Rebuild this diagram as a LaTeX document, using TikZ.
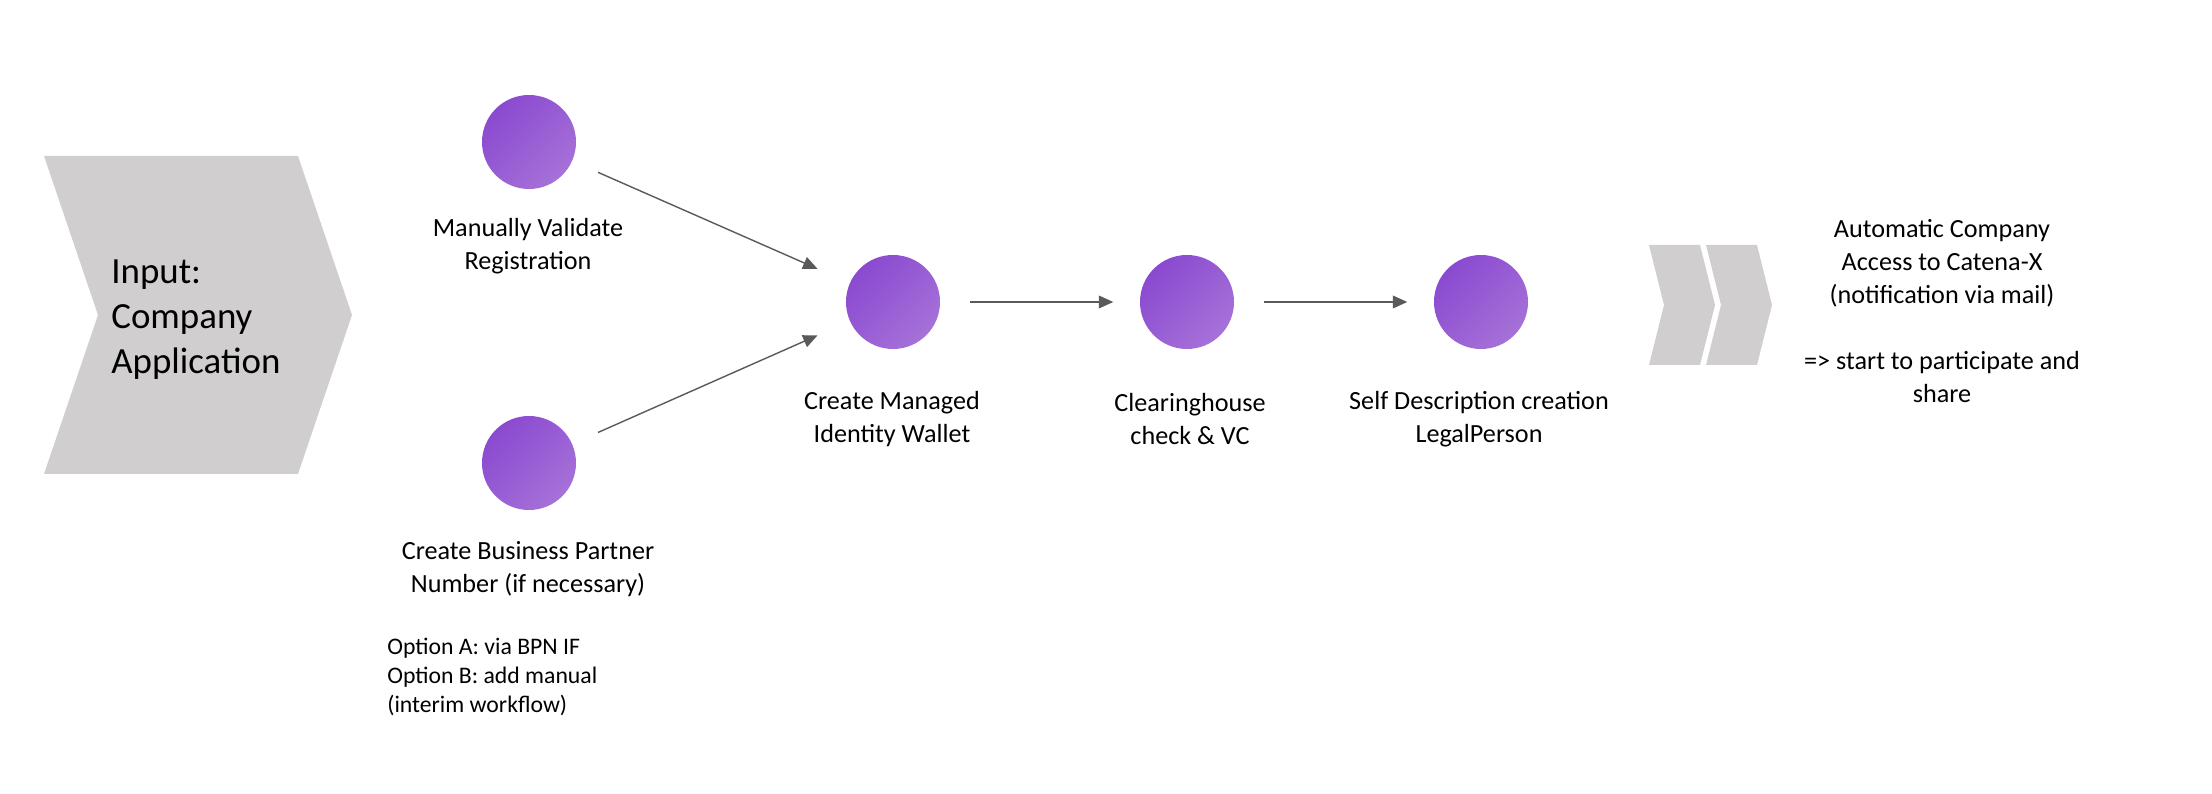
\documentclass[tikz,border=0pt]{standalone}
\usepackage{fontspec}
\setmainfont{Carlito}
\usetikzlibrary{arrows.meta, positioning, calc}
\definecolor{stepdark}{RGB}{138,74,208}
\definecolor{steplight}{RGB}{166,113,216}
\definecolor{chevgray}{RGB}{208,206,206}
\definecolor{arrowgray}{RGB}{90,90,90}

\begin{document}
\begin{tikzpicture}[x=1cm, y=1cm,
    stepnode/.style={circle, minimum size=1.88cm, inner sep=0pt, top color=stepdark, bottom color=steplight, shading angle=45},
    steplabel/.style={align=center, inner sep=0pt, font=\fontsize{14.9}{18.7}\selectfont},
    flow/.style={draw=arrowgray, line width=0.8pt, -{Triangle[length=8.2pt, width=7.2pt]}, shorten <=17pt, shorten >=15pt}]
\useasboundingbox (0,0) rectangle (44.24,15.88);

% Input chevron
\fill[chevgray] (0.88,12.76) -- (5.96,12.76) -- (7.04,9.58) -- (5.96,6.40) -- (0.88,6.40) -- (1.96,9.58) -- cycle;
\node[anchor=west, align=left, inner sep=0pt, font=\fontsize{21}{25.6}\selectfont] (input) at (2.22,9.48) {Input:\\Company\\Application};

% Parallel steps
\node[stepnode] (validate) at (10.58,13.04) {};
\node[steplabel] (validatelbl) at (10.56,10.95) {Manually Validate\\Registration};
\node[stepnode] (bpn) at (10.58,6.62) {};
\node[steplabel] (bpnlbl) at (10.56,4.49) {Create Business Partner\\Number (if necessary)};
\node[anchor=west, align=left, inner sep=0pt, font=\fontsize{13.5}{16.6}\selectfont] (options) at (7.74,2.34) {Option A: via BPN IF\\Option B: add manual\\(interim workflow)};

% Sequential steps
\foreach \name/\x in {wallet/17.86, clearing/23.74, selfdesc/29.62} {
    \node[stepnode] (\name) at (\x,9.84) {};
}
\node[steplabel] (walletlbl) at (17.84,7.50) {Create Managed\\Identity Wallet};
\node[steplabel] (clearinglbl) at (23.80,7.50) {Clearinghouse\\check \& VC};
\node[steplabel] (selfdesclbl) at (29.58,7.50) {Self Description creation\\LegalPerson};

% Connections
\draw[flow, shorten <=16pt, shorten >=20pt] (validate) -- (wallet);
\draw[flow, shorten <=16pt, shorten >=20pt] (bpn) -- (wallet);
\draw[flow] (wallet) -- (clearing);
\draw[flow] (clearing) -- (selfdesc);

% Output chevrons
\foreach \dx in {0, 1.14} {
    \fill[chevgray] (32.98+\dx,10.98) -- (34.00+\dx,10.98) -- (34.30+\dx,9.78) -- (34.00+\dx,8.58) -- (32.98+\dx,8.58) -- (33.28+\dx,9.78) -- cycle;
}
\node[steplabel] (access) at (38.84,9.66) {Automatic Company\\Access to Catena-X\\(notification via mail)\\[18.7pt]=> start to participate and\\share};
\end{tikzpicture}
\end{document}
